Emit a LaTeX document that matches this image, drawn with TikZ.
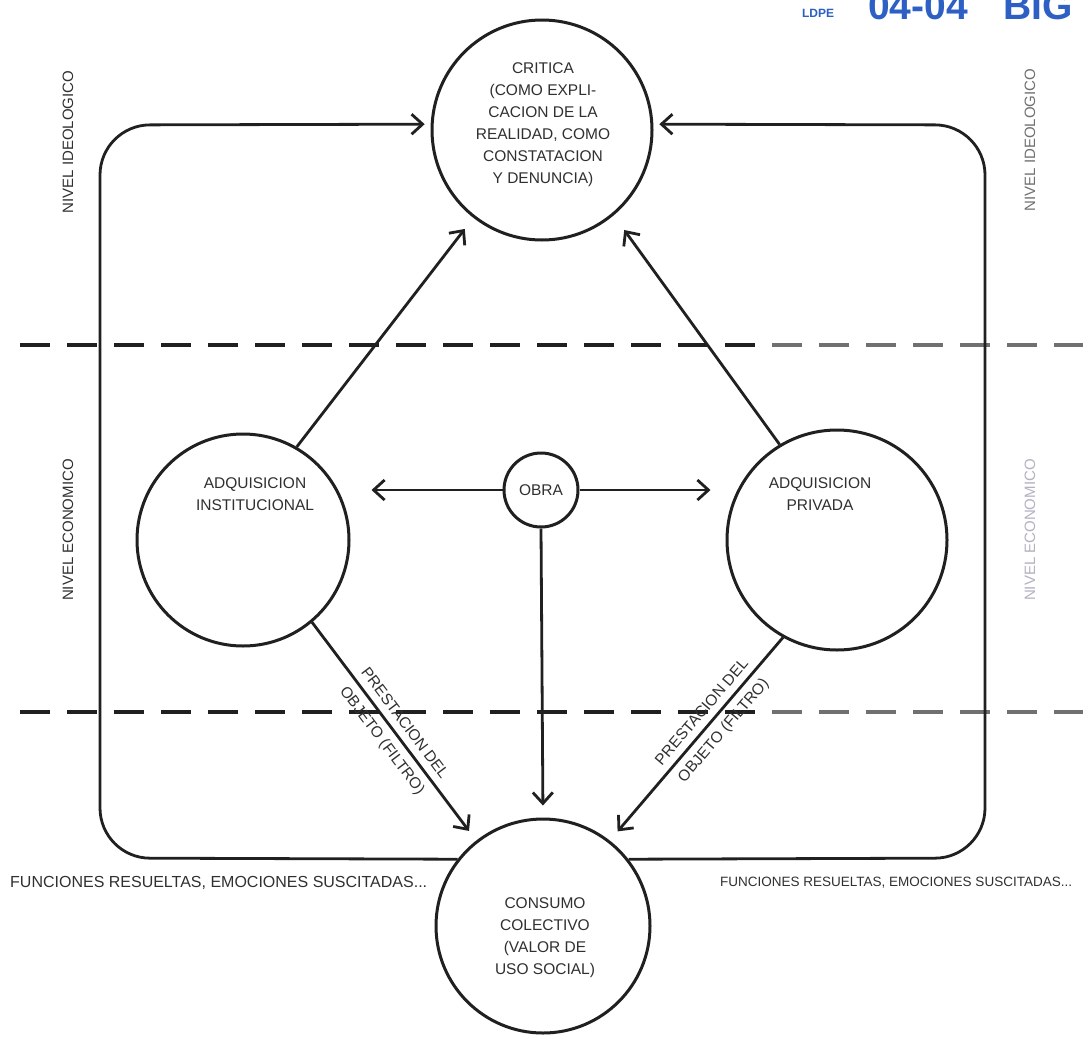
\documentclass[tikz,border=0pt]{standalone}
\usepackage{fontspec}
\setmainfont{Liberation Sans}
\usetikzlibrary{arrows.meta}
\definecolor{inkline}{HTML}{202020}
\definecolor{inktext}{HTML}{303030}
\definecolor{inkfade}{HTML}{707070}
\definecolor{inkpale}{HTML}{B2B2C2}
\definecolor{stampblue}{HTML}{2D5FC4}
\begin{document}
\begin{tikzpicture}[scale=1.000000,x=1pt,y=1pt,
  circ/.style={draw=inkline,line width=3.000000pt,circle,inner sep=0pt},
  flow/.style={draw=inkline,line width=2.800000pt,-{Straight Barb[length=11pt,width=20pt,line width=2.8pt]}},
  lbl/.style={text=inktext,font=\fontsize{15.5}{22}\selectfont,align=center,inner sep=0pt},
  level/.style={line width=3.200000pt,dash pattern=on 30pt off 17pt},
  side/.style={text=inktext,font=\fontsize{15}{18}\selectfont,rotate=90,inner sep=0pt},
]
\useasboundingbox (0.000000,-1052.000000) rectangle (1083.000000,0.000000);
\filldraw[color=white] (0.000000,-1052.000000) rectangle (1083.000000,0.000000);
% Drawing stamp
\node[text=stampblue,font=\bfseries\fontsize{12}{12}\selectfont] (stampa) at (818.000000,-13.000000) {LDPE};
\node[text=stampblue,font=\bfseries\fontsize{39}{39}\selectfont] (stampb) at (918.000000,-6.000000) {04-04};
\node[text=stampblue,font=\bfseries\fontsize{39}{39}\selectfont] (stampc) at (1038.000000,-6.000000) {BIG};
% Drawing level lines
\draw[level,draw=inkline] (20.000000,-345.000000) -- (760.000000,-345.000000);
\draw[level,draw=inkfade,dash phase=35pt] (760.000000,-345.000000) -- (1083.000000,-345.000000);
\draw[level,draw=inkline] (20.000000,-712.000000) -- (760.000000,-712.000000);
\draw[level,draw=inkfade,dash phase=35pt] (760.000000,-712.000000) -- (1083.000000,-712.000000);
% Level names
\node[side] (ideoA) at (68.000000,-142.000000) {NIVEL IDEOLOGICO};
\node[side,text=inkfade] (ideoB) at (1030.000000,-140.000000) {NIVEL IDEOLOGICO};
\node[side] (econA) at (68.000000,-530.000000) {NIVEL ECONOMICO};
\node[side,text=inkpale] (econB) at (1030.000000,-530.000000) {NIVEL ECONOMICO};
% Drawing circles
\node[circ,minimum size=220.000000pt] (critica) at (542.000000,-130.000000) {};
\node[circ,minimum size=212.000000pt] (institucional) at (243.000000,-540.000000) {};
\node[circ,minimum size=220.000000pt] (privada) at (837.000000,-540.000000) {};
\node[circ,minimum size=74.000000pt,lbl] (obra) at (541.000000,-490.000000) {OBRA};
\node[circ,minimum size=214.000000pt] (consumo) at (543.000000,-926.000000) {};
% Circle texts
\node[lbl] (criticaT) at (543.000000,-125.000000) {CRITICA\\(COMO EXPLI-\\CACION DE LA\\REALIDAD, COMO\\CONSTATACION\\Y DENUNCIA)};
\node[lbl] (institucionalT) at (255.000000,-494.000000) {ADQUISICION\\INSTITUCIONAL};
\node[lbl] (privadaT) at (820.000000,-494.000000) {ADQUISICION\\PRIVADA};
\node[lbl] (consumoT) at (545.000000,-938.000000) {CONSUMO\\COLECTIVO\\(VALOR DE\\USO SOCIAL)};
% Drawing arrows
\draw[flow,shorten >=14pt] (institucional.60) -- (critica.232);
\draw[flow,shorten >=18pt] (privada.121) -- (critica.310);
\draw[flow,shorten >=21pt] (obra.west) -- (obra.west -| institucional.east);
\draw[flow,shorten >=15pt] (obra.east) -- (obra.east -| privada.west);
\draw[flow,shorten >=12pt] (obra.south) -- (consumo.north);
\draw[flow,shorten >=12pt] (institucional.310) -- node[lbl,sloped,pos=0.50,above=7pt] (filtroA) {PRESTACION DEL} node[lbl,sloped,pos=0.50,below=7pt] (objetoA) {OBJETO (FILTRO)} (consumo.128);
\draw[flow,shorten >=12pt] (privada.241) -- node[lbl,sloped,pos=0.41,above=7pt] (filtroB) {PRESTACION DEL} node[lbl,sloped,pos=0.41,below=7pt] (objetoB) {OBJETO (FILTRO)} (consumo.52);
% Drawing return loops
\coordinate (loopLB) at (100.000000,-858.000000);
\coordinate (loopLT) at (100.000000,-125.000000);
\coordinate (loopRB) at (985.000000,-858.000000);
\coordinate (loopRT) at (985.000000,-125.000000);
\draw[flow,rounded corners=50.000000pt,shorten >=6pt] (consumo.142) -- (loopLB) -- (loopLT) -- (critica.177);
\draw[flow,rounded corners=50.000000pt,shorten >=6pt] (consumo.38) -- (loopRB) -- (loopRT) -- (critica.3);
% Ending labels
\node[lbl,anchor=west,font=\fontsize{16}{18}\selectfont] (funcA) at (10.000000,-883.000000) {FUNCIONES RESUELTAS, EMOCIONES SUSCITADAS...};
\node[lbl,anchor=west,font=\fontsize{13.5}{16}\selectfont] (funcB) at (720.000000,-883.000000) {FUNCIONES RESUELTAS, EMOCIONES SUSCITADAS...};
\end{tikzpicture}
\end{document}
